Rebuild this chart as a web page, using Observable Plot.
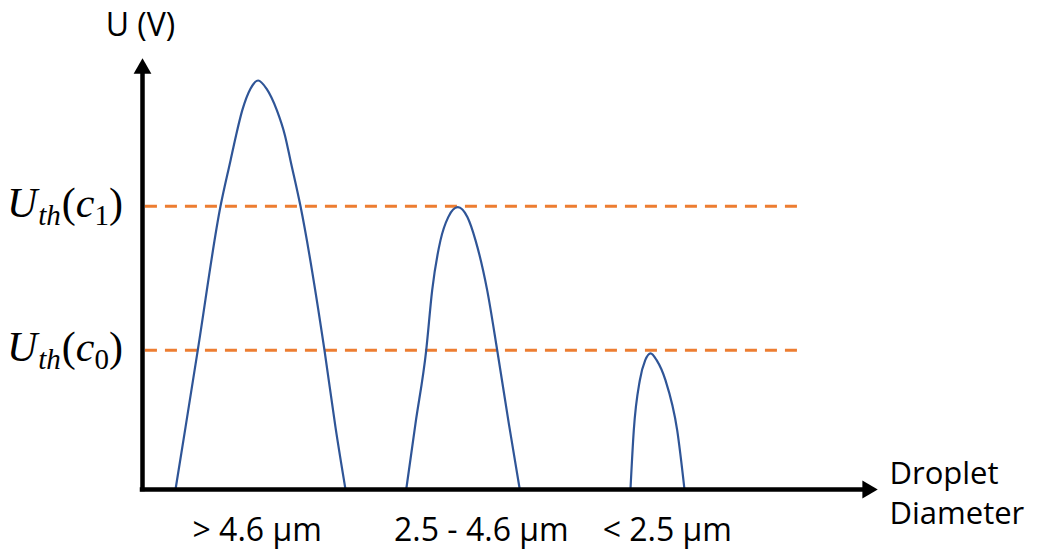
<!DOCTYPE html>
<html>
<head>
<meta charset="utf-8">
<script src="https://cdn.jsdelivr.net/npm/d3@7"></script>
<script src="https://cdn.jsdelivr.net/npm/@observablehq/plot@0.6"></script>
<style>
  html, body { margin: 0; padding: 0; background: #fff; }
  #chart svg { display: block; }
</style>
</head>
<body>
<div id="chart"></div>
<script>
// ---- data (arbitrary units: diameter axis 0..100, voltage axis 0..100) ----
const peak1X = [4.49, 5.85, 7.52, 10.61, 11.97, 12.72, 13.56, 14.69, 15.74, 16.87, 18.30, 19.39, 20.14, 21.50, 24.76, 26.26, 27.62];
const peak1Y = [0, 14.4, 32.3, 65.7, 76.3, 82.1, 87.9, 93.0, 94.9, 93.0, 87.9, 82.1, 76.3, 65.7, 32.3, 14.4, 0];
const peak2X = [35.88, 37.14, 38.60, 39.41, 40.54, 41.60, 42.90, 44.20, 45.31, 46.90, 48.26, 49.84, 51.33];
const peak2Y = [0, 15.3, 32.3, 46.2, 57.8, 63.2, 65.5, 63.2, 57.8, 46.2, 32.3, 15.3, 0];
const peak3X = [66.39, 66.84, 67.66, 68.40, 69.12, 69.95, 71.16, 72.75, 73.74];
const peak3Y = [0, 13.7, 25.3, 30.0, 31.6, 30.0, 25.3, 13.7, 0];

const thresholdValues = [65.7, 32.3];           // U_th(c1), U_th(c0)
const thresholdSubs = ["1", "0"];
const thresholdStart = 0.4, thresholdEnd = 89.9;

const categories = ["> 4.6 μm", "2.5 - 4.6 μm", "< 2.5 μm"];
const categoryX = [15.6, 46.1, 71.4];

const yAxisLabel = "U (V)";
const xAxisLabel = "Droplet\nDiameter";

// ---- build tables ----
const peaks = [
  ...peak1X.map((x, i) => ({peak: 1, x, y: peak1Y[i]})),
  ...peak2X.map((x, i) => ({peak: 2, x, y: peak2Y[i]})),
  ...peak3X.map((x, i) => ({peak: 3, x, y: peak3Y[i]}))
];
const thresholds = thresholdValues.map((v, i) => ({v, sub: thresholdSubs[i]}));
const cats = categories.map((c, i) => ({c, x: categoryX[i]}));

const blue = "#2F5597";
const orange = "#ED7D31";

const plot = Plot.plot({
  width: 1040,
  height: 553,
  marginLeft: 142,
  marginRight: 163,
  marginTop: 58,
  marginBottom: 64,
  x: {domain: [0, 100], axis: null},
  y: {domain: [0, 100], axis: null},
  style: {fontFamily: "'Open Sans', sans-serif", color: "#000", background: "#fff"},
  marks: [
    Plot.ruleY(thresholds, {y: "v", x1: thresholdStart, x2: thresholdEnd, stroke: orange, strokeWidth: 3, strokeDasharray: "12,8"}),
    Plot.line(peaks, {x: "x", y: "y", z: "peak", stroke: blue, strokeWidth: 2.2, curve: "monotone-x"}),
    // axes with arrows
    Plot.ruleX([0], {y1: 0, y2: 96.8, stroke: "#000", strokeWidth: 4.5, strokeLinecap: "square"}),
    Plot.ruleY([0], {x1: 0, x2: 98.2, stroke: "#000", strokeWidth: 4.5, strokeLinecap: "square"}),
    Plot.dot([0], {x: 0, y: 100, symbol: "triangle", r: 6.6, fill: "#000", stroke: null, dy: 10}),
    Plot.dot([0], {x: 100, y: 0, symbol: "triangle", r: 6.6, fill: "#000", stroke: null, rotate: 90, dx: -10}),
    // labels
    Plot.text(cats, {x: "x", y: 0, text: "c", lineAnchor: "top", dy: 29, fontSize: 32, fill: "#000"}),
    Plot.text([yAxisLabel], {x: 0, y: 100, text: d => d, lineAnchor: "top", dy: -45, dx: -2, fontSize: 32, fill: "#000"}),
    Plot.text([xAxisLabel], {x: 100, y: 0, text: d => d, textAnchor: "start", lineAnchor: "top", dx: 12, dy: -35, fontSize: 31, lineHeight: 1.32, fill: "#000"})
  ]
});

// math-style threshold labels U_th(c_n), positioned through the plot's scales
const sx = plot.scale("x"), sy = plot.scale("y");
const svg = d3.select(plot);
thresholds.forEach(t => {
  const txt = svg.append("text")
    .attr("x", sx.apply(0) - 19)
    .attr("y", sy.apply(t.v) + 11)
    .attr("text-anchor", "end")
    .attr("font-family", "'Liberation Serif', 'DejaVu Serif', serif")
    .attr("font-size", 42)
    .attr("fill", "#000");
  txt.append("tspan").attr("font-style", "italic").text("U");
  txt.append("tspan").attr("font-style", "italic").attr("font-size", 29).attr("dy", 8).attr("dx", 1).text("th");
  txt.append("tspan").attr("dy", -8).attr("dx", 1).text("(");
  txt.append("tspan").attr("font-style", "italic").text("c");
  txt.append("tspan").attr("font-size", 29).attr("dy", 8).text(t.sub);
  txt.append("tspan").attr("dy", -8).text(")");
});

document.getElementById("chart").appendChild(plot);
</script>
</body>
</html>
